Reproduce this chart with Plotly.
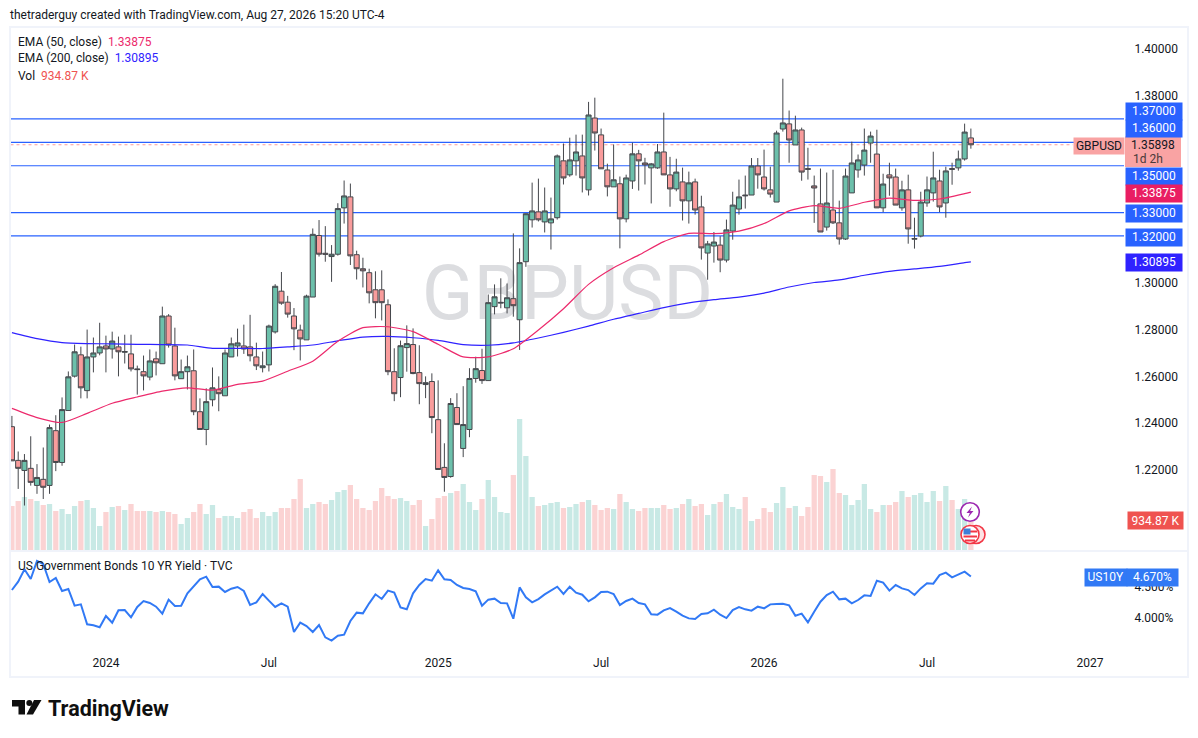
import pandas as pd
import plotly.graph_objects as go

# Weekly GBPUSD candles
opens = [
    1.2385, 1.2241, 1.2198, 1.2207, 1.2134, 1.2160, 1.2134, 1.2368, 1.2232, 1.2454,
    1.2601, 1.2692, 1.2539, 1.2683, 1.2700, 1.2730, 1.2717, 1.2726, 1.2703, 1.2696,
    1.2632, 1.2620, 1.2597, 1.2675, 1.2654, 1.2858, 1.2730, 1.2590, 1.2620, 1.2624,
    1.2449, 1.2373, 1.2500, 1.2543, 1.2517, 1.2683, 1.2730, 1.2730, 1.2726, 1.2683,
    1.2637, 1.2649, 1.2790, 1.2964, 1.2917, 1.2858, 1.2798, 1.2756, 1.2939, 1.3202,
    1.3126, 1.3112, 1.3122, 1.3320, 1.3367, 1.3120, 1.3060, 1.3043, 1.2970, 1.2970,
    1.2906, 1.2620, 1.2595, 1.2723, 1.2736, 1.2616, 1.2565, 1.2578, 1.2415, 1.2211,
    1.2172, 1.2467, 1.2292, 1.2373, 1.2591, 1.2625, 1.2582, 1.2898, 1.2913, 1.2893,
    1.2932, 1.2842, 1.3090, 1.3269, 1.3303, 1.3260, 1.3256, 1.3278, 1.3521, 1.3461,
    1.3521, 1.3542, 1.3397, 1.3704, 1.3632, 1.3482, 1.3410, 1.3423, 1.3273, 1.3435,
    1.3551, 1.3512, 1.3491, 1.3491, 1.3559, 1.3461, 1.3401, 1.3431, 1.3350, 1.3431,
    1.3324, 1.3127, 1.3157, 1.3161, 1.3097, 1.3221, 1.3315, 1.3375, 1.3375, 1.3499,
    1.3452, 1.3397, 1.3345, 1.3657, 1.3679, 1.3589, 1.3653, 1.3488, 1.3414, 1.3337,
    1.3238, 1.3311, 1.3256, 1.3187, 1.3384, 1.3482, 1.3503, 1.3597, 1.3550, 1.3320,
    1.3461, 1.3452, 1.3320, 1.3397, 1.3186, 1.3200, 1.3341, 1.3384, 1.3435, 1.3341,
    1.3488, 1.3491, 1.3529, 1.3619,
]
highs = [
    1.2431, 1.2279, 1.2268, 1.2344, 1.2225, 1.2296, 1.2394, 1.2434, 1.2510, 1.2621,
    1.2736, 1.2727, 1.2800, 1.2766, 1.2829, 1.2774, 1.2791, 1.2770, 1.2778, 1.2778,
    1.2646, 1.2689, 1.2715, 1.2706, 1.2898, 1.2866, 1.2808, 1.2672, 1.2689, 1.2715,
    1.2506, 1.2549, 1.2638, 1.2600, 1.2715, 1.2766, 1.2804, 1.2821, 1.2863, 1.2744,
    1.2706, 1.2821, 1.2994, 1.3046, 1.2944, 1.2892, 1.2821, 1.2949, 1.3232, 1.3268,
    1.3242, 1.3161, 1.3340, 1.3437, 1.3424, 1.3137, 1.3107, 1.3060, 1.3049, 1.3053,
    1.2929, 1.2720, 1.2753, 1.2818, 1.2805, 1.2733, 1.2600, 1.2613, 1.2583, 1.2314,
    1.2507, 1.2528, 1.2558, 1.2635, 1.2684, 1.2718, 1.2950, 1.2993, 1.3019, 1.2997,
    1.3211, 1.3147, 1.3296, 1.3428, 1.3445, 1.3407, 1.3364, 1.3548, 1.3595, 1.3620,
    1.3633, 1.3633, 1.3773, 1.3791, 1.3659, 1.3509, 1.3591, 1.3454, 1.3462, 1.3599,
    1.3568, 1.3534, 1.3512, 1.3593, 1.3727, 1.3538, 1.3530, 1.3492, 1.3475, 1.3445,
    1.3372, 1.3179, 1.3217, 1.3199, 1.3270, 1.3389, 1.3441, 1.3458, 1.3533, 1.3533,
    1.3569, 1.3496, 1.3650, 1.3872, 1.3736, 1.3714, 1.3663, 1.3577, 1.3458, 1.3488,
    1.3471, 1.3483, 1.3351, 1.3488, 1.3603, 1.3548, 1.3659, 1.3646, 1.3654, 1.3466,
    1.3513, 1.3488, 1.3436, 1.3462, 1.3278, 1.3389, 1.3454, 1.3560, 1.3483, 1.3496,
    1.3513, 1.3565, 1.3680, 1.3659,
]
lows = [
    1.2239, 1.2119, 1.2048, 1.2133, 1.2098, 1.2076, 1.2098, 1.2195, 1.2218, 1.2454,
    1.2595, 1.2506, 1.2506, 1.2617, 1.2690, 1.2617, 1.2676, 1.2600, 1.2655, 1.2621,
    1.2522, 1.2540, 1.2583, 1.2604, 1.2654, 1.2723, 1.2583, 1.2590, 1.2544, 1.2434,
    1.2373, 1.2306, 1.2472, 1.2451, 1.2517, 1.2683, 1.2685, 1.2696, 1.2664, 1.2627,
    1.2617, 1.2621, 1.2783, 1.2906, 1.2851, 1.2712, 1.2668, 1.2756, 1.2939, 1.3112,
    1.3090, 1.3004, 1.3116, 1.3253, 1.3076, 1.3014, 1.2980, 1.2912, 1.2848, 1.2839,
    1.2605, 1.2494, 1.2511, 1.2620, 1.2609, 1.2481, 1.2507, 1.2357, 1.2202, 1.2107,
    1.2167, 1.2394, 1.2255, 1.2340, 1.2573, 1.2568, 1.2582, 1.2865, 1.2891, 1.2869,
    1.2855, 1.2713, 1.3068, 1.3236, 1.3262, 1.3215, 1.3142, 1.3270, 1.3420, 1.3453,
    1.3458, 1.3386, 1.3373, 1.3565, 1.3487, 1.3369, 1.3410, 1.3147, 1.3258, 1.3401,
    1.3394, 1.3420, 1.3339, 1.3487, 1.3461, 1.3325, 1.3391, 1.3266, 1.3253, 1.3291,
    1.3099, 1.3013, 1.3086, 1.3045, 1.3087, 1.3184, 1.3291, 1.3317, 1.3375, 1.3402,
    1.3394, 1.3364, 1.3345, 1.3646, 1.3513, 1.3589, 1.3436, 1.3441, 1.3256, 1.3217,
    1.3223, 1.3251, 1.3163, 1.3183, 1.3384, 1.3449, 1.3458, 1.3513, 1.3320, 1.3302,
    1.3372, 1.3332, 1.3308, 1.3167, 1.3146, 1.3194, 1.3325, 1.3347, 1.3302, 1.3278,
    1.3419, 1.3479, 1.3522, 1.3573,
]
closes = [
    1.2239, 1.2207, 1.2241, 1.2147, 1.2168, 1.2126, 1.2381, 1.2232, 1.2458, 1.2598,
    1.2705, 1.2551, 1.2683, 1.2700, 1.2726, 1.2717, 1.2751, 1.2705, 1.2706, 1.2632,
    1.2629, 1.2602, 1.2666, 1.2658, 1.2858, 1.2734, 1.2602, 1.2620, 1.2641, 1.2449,
    1.2373, 1.2492, 1.2551, 1.2526, 1.2700, 1.2739, 1.2743, 1.2717, 1.2688, 1.2645,
    1.2645, 1.2815, 1.2985, 1.2913, 1.2866, 1.2803, 1.2760, 1.2943, 1.3207, 1.3122,
    1.3122, 1.3122, 1.3317, 1.3371, 1.3115, 1.3060, 1.3051, 1.2957, 1.2915, 1.2915,
    1.2620, 1.2526, 1.2731, 1.2740, 1.2612, 1.2569, 1.2573, 1.2424, 1.2202, 1.2168,
    1.2484, 1.2394, 1.2394, 1.2591, 1.2633, 1.2582, 1.2915, 1.2940, 1.2916, 1.2936,
    1.2902, 1.3086, 1.3295, 1.3307, 1.3269, 1.3307, 1.3273, 1.3542, 1.3448, 1.3525,
    1.3559, 1.3448, 1.3717, 1.3640, 1.3487, 1.3410, 1.3440, 1.3273, 1.3448, 1.3551,
    1.3521, 1.3504, 1.3508, 1.3559, 1.3461, 1.3401, 1.3473, 1.3350, 1.3427, 1.3311,
    1.3149, 1.3166, 1.3174, 1.3097, 1.3226, 1.3332, 1.3367, 1.3372, 1.3499, 1.3461,
    1.3401, 1.3379, 1.3640, 1.3683, 1.3610, 1.3653, 1.3473, 1.3485, 1.3405, 1.3217,
    1.3341, 1.3256, 1.3187, 1.3456, 1.3512, 1.3525, 1.3567, 1.3627, 1.3320, 1.3422,
    1.3448, 1.3332, 1.3397, 1.3230, 1.3189, 1.3345, 1.3397, 1.3448, 1.3324, 1.3478,
    1.3485, 1.3529, 1.3644, 1.35898,
]
# volume in thousands
volumes = [
    924, 1029, 1113, 1071, 1029, 945, 966, 819, 861, 756,
    924, 1029, 1050, 882, 504, 798, 903, 924, 840, 966,
    819, 819, 819, 798, 819, 798, 756, 546, 672, 798,
    966, 756, 945, 672, 714, 714, 672, 798, 861, 672,
    798, 714, 798, 882, 882, 1071, 1491, 882, 966, 1008,
    966, 1050, 1218, 1260, 1365, 1071, 882, 840, 1029, 1302,
    1134, 1071, 1092, 1029, 945, 1050, 504, 651, 1092, 1134,
    1197, 1239, 1386, 1008, 840, 1071, 1470, 1113, 798, 777,
    1575, 2751, 1974, 1113, 924, 945, 987, 1008, 882, 903,
    966, 1008, 1050, 945, 840, 882, 861, 1176, 1008, 861,
    819, 882, 882, 882, 945, 861, 882, 966, 1071, 924,
    966, 735, 966, 1008, 1176, 903, 861, 1113, 609, 651,
    882, 798, 987, 1323, 882, 924, 714, 903, 1575, 1554,
    1428, 1701, 1197, 1155, 945, 1050, 1386, 861, 798, 945,
    945, 1008, 1239, 1113, 1155, 1197, 1008, 1239, 1029, 1344,
    1050, 861, 1071, 934.87,
]
# US 10Y yield, percent
yields = [
    4.452, 4.586, 4.785, 4.629, 4.920, 4.871, 4.581, 4.645, 4.436, 4.468,
    4.199, 4.221, 3.898, 3.882, 3.850, 4.032, 3.925, 4.124, 4.129, 4.011,
    4.178, 4.274, 4.242, 4.183, 4.070, 4.296, 4.194, 4.199, 4.398, 4.516,
    4.624, 4.667, 4.500, 4.506, 4.420, 4.473, 4.500, 4.436, 4.210, 4.253,
    4.387, 4.280, 4.178, 4.237, 4.183, 3.774, 3.925, 3.871, 3.774, 3.887,
    3.688, 3.635, 3.715, 3.731, 3.952, 4.086, 4.075, 4.237, 4.382, 4.307,
    4.441, 4.409, 4.172, 4.140, 4.398, 4.532, 4.629, 4.602, 4.769, 4.624,
    4.613, 4.532, 4.484, 4.468, 4.430, 4.199, 4.296, 4.312, 4.242, 4.236,
    3.989, 4.494, 4.333, 4.252, 4.306, 4.381, 4.441, 4.505, 4.387, 4.505,
    4.408, 4.376, 4.269, 4.333, 4.419, 4.425, 4.387, 4.209, 4.274, 4.312,
    4.242, 4.220, 4.059, 4.054, 4.123, 4.161, 4.102, 4.037, 3.994, 3.984,
    4.064, 4.075, 4.134, 4.054, 4.000, 4.129, 4.177, 4.140, 4.118, 4.183,
    4.156, 4.220, 4.226, 4.231, 4.204, 4.037, 4.070, 3.930, 4.102, 4.263,
    4.371, 4.425, 4.301, 4.312, 4.236, 4.290, 4.365, 4.355, 4.602, 4.570,
    4.441, 4.532, 4.478, 4.451, 4.371, 4.478, 4.559, 4.554, 4.693, 4.731,
    4.656, 4.699, 4.747, 4.670,
]
# EMAs read every 4th week, plus the last week
ema_weeks = list(range(0, 153, 4)) + [153]
ema_50 = [
    1.2463, 1.2424, 1.2403, 1.2442, 1.2485, 1.2512, 1.2537, 1.2551, 1.2541, 1.2566,
    1.2580, 1.2622, 1.2665, 1.2750, 1.2808, 1.2812, 1.2791, 1.2737, 1.2683, 1.2683,
    1.2718, 1.2798, 1.2889, 1.2993, 1.3064, 1.3118, 1.3176, 1.3211, 1.3210, 1.3221,
    1.3253, 1.3307, 1.3330, 1.3318, 1.3344, 1.3362, 1.3352, 1.3358, 1.3381, 1.33875,
]
ema_200 = [
    1.2787, 1.2761, 1.2744, 1.2740, 1.2739, 1.2737, 1.2736, 1.2734, 1.2720, 1.2720,
    1.2719, 1.2726, 1.2734, 1.2752, 1.2768, 1.2771, 1.2765, 1.2754, 1.2736, 1.2733,
    1.2743, 1.2764, 1.2788, 1.2815, 1.2844, 1.2869, 1.2894, 1.2914, 1.2928, 1.2939,
    1.2956, 1.2982, 1.3001, 1.3012, 1.3032, 1.3049, 1.3059, 1.3070, 1.3086, 1.30895,
]
h_levels = [1.37, 1.36, 1.35, 1.33, 1.32]
price_ticks = [1.40, 1.38, 1.30, 1.28, 1.26, 1.24, 1.22]
yield_ticks = [4.0, 4.5]
yield_labels = ["4.000%", "4.500%"]
time_ticks = ["2024-01-01", "2024-07-01", "2025-01-06", "2025-07-07", "2026-01-05", "2026-07-06", "2027-01-04"]
time_labels = ["2024", "Jul", "2025", "Jul", "2026", "Jul", "2027"]

dates = pd.date_range("2023-09-18", periods=len(closes), freq="7D")
ema_dates = [dates[i] for i in ema_weeks]

W, H = 1198, 738
FONT = "Roboto"
INK = "#131722"
GREEN, RED = "#6cc0ab", "#f99c9c"
BLUE = "#2962ff"
X_RANGE = ["2023-09-16 10:00", "2027-02-11"]


def px(x):
    return x / W


def py(y):
    return 1 - y / H


def poly(points):
    return "M" + " L".join(f"{px(a):.5f},{py(b):.5f}" for a, b in points) + " Z"


def rect(x0, y0, x1, y1, fill, line=None, width=0, layer="above"):
    return dict(type="rect", xref="paper", yref="paper", x0=px(x0), x1=px(x1), y0=py(y0), y1=py(y1),
                fillcolor=fill, line=dict(color=line or fill, width=width), layer=layer)


def circle(cx, cy, r, fill, line, width):
    return dict(type="circle", xref="paper", yref="paper", x0=px(cx - r), x1=px(cx + r), y0=py(cy + r), y1=py(cy - r),
                fillcolor=fill, line=dict(color=line, width=width))


def label(text, x, y, size=12, color=INK, xanchor="left", **kw):
    return dict(text=text, xref="paper", yref="paper", x=px(x), y=py(y), xanchor=xanchor, yanchor="middle",
                showarrow=False, font=dict(family=FONT, size=size, color=color), **kw)


def badge(text, x0, x1, y0, y1, bg, color="white"):
    return dict(text=text, xref="paper", yref="paper", x=px(x0), y=py(y0), xanchor="left", yanchor="top",
                width=x1 - x0, height=y1 - y0, bgcolor=bg, align="center", valign="middle", borderpad=0,
                showarrow=False, font=dict(family=FONT, size=12, color=color))


fig = go.Figure()

vol_colors = ["#c8e9e5" if c >= o else "#fbd3d3" for o, c in zip(opens, closes)]
fig.add_trace(go.Bar(x=dates, y=volumes, marker=dict(color=vol_colors, line_width=0), xaxis="x", yaxis="y"))
fig.add_trace(go.Scatter(x=ema_dates, y=ema_200, mode="lines", line=dict(color="#2f22ff", width=1.2, shape="spline", smoothing=0.6),
                         xaxis="x", yaxis="y2"))
fig.add_trace(go.Scatter(x=ema_dates, y=ema_50, mode="lines", line=dict(color="#ec2a6c", width=1.2, shape="spline", smoothing=0.6),
                         xaxis="x", yaxis="y2"))
fig.add_trace(go.Candlestick(
    x=dates, open=opens, high=highs, low=lows, close=closes, xaxis="x", yaxis="y2",
    increasing=dict(line=dict(color="#45474c", width=1), fillcolor=GREEN),
    decreasing=dict(line=dict(color="#45474c", width=1), fillcolor=RED),
))
fig.add_trace(go.Scatter(x=dates, y=yields, mode="lines", line=dict(color="#3179f5", width=2), xaxis="x2", yaxis="y3"))

shapes = []
# watermark goes under everything
shapes.append(dict(type="rect", xref="paper", yref="paper", x0=px(380), x1=px(755), y0=py(330), y1=py(245),
                   fillcolor="rgba(0,0,0,0)", line=dict(width=0), layer="below",
                   label=dict(text="GBPUSD", textposition="middle center",
                              font=dict(family=FONT, size=76, color="#dcdde0"))))
for lvl in h_levels:
    shapes.append(dict(type="line", xref="x domain", yref="y2", x0=0, x1=1, y0=lvl, y1=lvl,
                       line=dict(color=BLUE, width=1.2), layer="below"))
shapes.append(dict(type="line", xref="x domain", yref="y2", x0=0, x1=0.954, y0=closes[-1], y1=closes[-1],
                   line=dict(color=RED, width=1, dash="dot"), layer="below"))

# frame and pane divider
frame = "#f0f3fa"
shapes += [
    rect(9, 26, 1189, 28, frame), rect(9, 676, 1189, 678, frame),
    rect(9, 26, 11, 678, frame), rect(1187, 26, 1189, 678, frame),
    rect(11, 550, 1187, 552, frame),
]
# pink last price block
shapes.append(rect(1125, 136.5, 1181, 167, "#f9a3a3"))

# lightning and flag markers
shapes.append(circle(970, 512, 9.3, "white", "#9c27b0", 1.6))
shapes.append(dict(type="path", xref="paper", yref="paper", fillcolor="#9c27b0", line=dict(width=0),
                   path=poly([(972, 506.5), (966.5, 513), (969.8, 513), (968, 517.5), (973.5, 511), (970.2, 511)])))
shapes.append(circle(976, 534.5, 9, "#fde3e5", "#f23645", 1.6))
shapes.append(circle(970, 534.5, 9, "white", "#f23645", 1.6))
shapes.append(rect(965, 530.5, 977, 532.5, "#f23645"))
shapes.append(rect(963.5, 535.5, 977, 537.5, "#f23645"))
shapes.append(rect(965, 539.5, 975, 541.5, "#f23645"))
shapes.append(rect(963.5, 528.5, 970.5, 534.5, "#3f7fd8"))

# TradingView logo
shapes.append(dict(type="path", xref="paper", yref="paper", fillcolor="#0f0f0f", line=dict(width=0),
                   path=poly([(12, 700), (25, 700), (25, 714.5), (18.5, 714.5), (18.5, 706.5), (12, 706.5)])))
shapes.append(circle(29.3, 703, 3, "#0f0f0f", "#0f0f0f", 0))
shapes.append(dict(type="path", xref="paper", yref="paper", fillcolor="#0f0f0f", line=dict(width=0),
                   path=poly([(34, 700), (41.5, 700), (33, 714.5), (26.5, 714.5)])))

annotations = [
    label("thetraderguy created with TradingView.com, Aug 27, 2026 15:20 UTC-4", 8, 15, size=12),
    label("EMA (50, close)  <span style='color:#ec2a6c'>1.33875</span>", 16, 41.5, size=12),
    label("EMA (200, close)  <span style='color:#2f22ff'>1.30895</span>", 16, 58.5, size=12),
    label("Vol  <span style='color:#ef5350'>934.87 K</span>", 16, 75.5, size=12),
    label("US Government Bonds 10 YR Yield · TVC", 16, 566, size=12),
    badge("1.37000", 1125, 1181, 102, 118.5, BLUE),
    badge("1.36000", 1125, 1181, 119, 135.5, BLUE),
    badge("GBPUSD", 1073, 1123, 137, 153, "#f9a3a3", INK),
    label("1.35898", 1153, 145, size=12, xanchor="center"),
    label("1d 2h", 1131, 158.5, size=12, color="#4a3a3a"),
    badge("1.35000", 1125, 1181, 167, 183.5, BLUE),
    badge("1.33875", 1125, 1181, 184, 200.5, "#e91e63"),
    badge("1.33000", 1125, 1181, 204, 220.5, BLUE),
    badge("1.32000", 1125, 1181, 228, 244.5, BLUE),
    badge("1.30895", 1125, 1181, 253, 269.5, "#2f22ff"),
    badge("934.87 K", 1127, 1182, 511, 528, "#ef5350"),
    badge("US10Y", 1084, 1125.5, 568, 584.5, "#3179f5"),
    badge("4.670%", 1126, 1177, 568, 584.5, "#3179f5"),
    label("<b>TradingView</b>", 46, 708, size=21.5, color="#0f0f0f"),
]

tick_font = dict(family=FONT, size=12, color=INK)
blank = "rgba(0,0,0,0)"
fig.update_layout(
    width=W, height=H, margin=dict(l=0, r=0, t=0, b=0), autosize=False,
    paper_bgcolor="white", plot_bgcolor="white", showlegend=False,
    bargap=0.16, boxgap=0.1, boxgroupgap=0.1, hovermode=False,
    xaxis=dict(domain=[px(10.5), px(1124)], type="date", range=X_RANGE, anchor="y", showgrid=False, zeroline=False,
               showticklabels=False, ticks="", rangeslider=dict(visible=False)),
    xaxis2=dict(domain=[px(10.5), px(1124)], type="date", range=X_RANGE, anchor="y3", showgrid=False, zeroline=False,
                tickmode="array", tickvals=time_ticks, ticktext=time_labels, tickfont=tick_font,
                ticks="outside", ticklen=2, tickcolor=blank),
    yaxis=dict(domain=[py(550), py(27)], range=[0, 10983], anchor="x", showgrid=False, zeroline=False,
               showticklabels=False, ticks=""),
    yaxis2=dict(domain=[py(550), py(27)], range=[1.1858, 1.4093], overlaying="y", side="right", anchor="x",
                showgrid=False, zeroline=False, tickmode="array", tickvals=price_ticks, tickformat=".5f",
                tickfont=tick_font, ticks="outside", ticklen=7, tickcolor=blank),
    yaxis3=dict(domain=[py(650), py(552)], range=[3.484, 5.0645], side="right", anchor="x2",
                showgrid=False, zeroline=False, tickmode="array", tickvals=yield_ticks, ticktext=yield_labels,
                tickfont=tick_font, ticks="outside", ticklen=7, tickcolor=blank),
    shapes=shapes, annotations=annotations,
)

fig.write_html("out.html", config={"displayModeBar": False}, post_script="document.body.style.margin='0';")
